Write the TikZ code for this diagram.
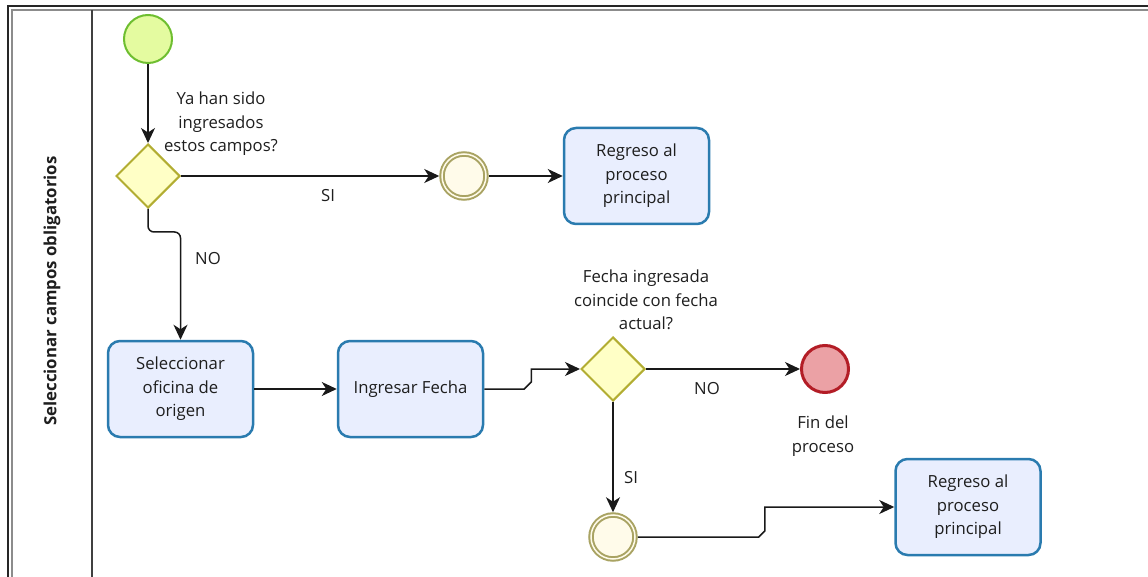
\documentclass[tikz,border=0pt]{standalone}
\usepackage{fontspec}
\setmainfont{Open Sans}
\usetikzlibrary{arrows.meta,shapes.geometric}

\definecolor{startfill}{HTML}{E4FBA0}
\definecolor{startdraw}{HTML}{6EBE30}
\definecolor{gwfill}{HTML}{FFFFC6}
\definecolor{gwdraw}{HTML}{B2AD32}
\definecolor{imfill}{HTML}{FFFBEA}
\definecolor{imdraw}{HTML}{A9A363}
\definecolor{taskfill}{HTML}{E9EEFE}
\definecolor{taskdraw}{HTML}{2A7BAF}
\definecolor{endfill}{HTML}{EBA1A5}
\definecolor{enddraw}{HTML}{B31D26}
\definecolor{txt}{HTML}{1E1E1E}

\begin{document}
\begin{tikzpicture}[x=1pt,y=-1pt,
  font=\fontsize{16.7}{23.5}\selectfont,
  flow/.style={draw=black!90, line width=1.5pt,
    -{Stealth[length=15pt,width=14pt,inset=4.5pt]}},
  startev/.style={circle, draw=startdraw, fill=startfill, line width=2pt,
    minimum size=48pt, inner sep=0pt},
  endev/.style={circle, draw=enddraw, fill=endfill, line width=3pt,
    minimum size=47pt, inner sep=0pt},
  midev/.style={circle, draw=imdraw, double=imfill, double distance=1.5pt,
    line width=2pt, fill=imfill, minimum size=44pt, inner sep=0pt,
    outer sep=2.75pt},
  gateway/.style={diamond, aspect=1, draw=gwdraw, fill=gwfill, line width=2pt,
    minimum width=64pt, minimum height=64pt, inner sep=0pt},
  task/.style={rectangle, rounded corners=12pt, draw=taskdraw, fill=taskfill,
    line width=2.5pt, minimum width=145pt, minimum height=96pt,
    align=center, text=txt},
  lbl/.style={align=center, text=txt, inner sep=0pt},
]
\useasboundingbox (0,0) rectangle (1148,577);

% pool frame and lane header
\draw[line width=1.6pt, black!85] (8,577) -- (8,6) -- (1148,6);
\draw[line width=1.2pt, black!45] (12,577) -- (12,10) -- (1148,10);
\draw[line width=1.3pt, black!75] (92,10) -- (92,577);
\node[rotate=90, font=\fontsize{16.8}{20}\selectfont\bfseries, text=txt]
  (lane) at (52,291) {Seleccionar campos obligatorios};

% events, gateways and tasks
\node[startev] (start) at (148,39) {};
\node[gateway] (gw1) at (148,176) {};
\node[midev] (im1) at (464,176) {};
\node[task] (t1) at (636.5,176) {Regreso al\\proceso\\principal};
\node[task] (t2) at (180.5,389) {Seleccionar\\oficina de\\origen};
\node[task] (t3) at (410.5,389) {Ingresar Fecha};
\node[gateway] (gw2) at (613,369) {};
\node[endev] (fin) at (825,369) {};
\node[midev] (im2) at (613,537) {};
\node[task] (t4) at (968,507) {Regreso al\\proceso\\principal};

% labels
\node[lbl] (q1) at (221,124) {Ya han sido\\ingresados\\estos campos?};
\node[lbl] (si1) at (328,196) {SI};
\node[lbl] (no1) at (208,259) {NO};
\node[lbl] (q2) at (646,300) {Fecha ingresada\\coincide con fecha\\actual?};
\node[lbl] (no2) at (707,389) {NO};
\node[lbl] (finlbl) at (823,436) {Fin del\\proceso};
\node[lbl] (si2) at (631,478) {SI};

% sequence flows
\draw[flow] (start) -- (gw1);
\draw[flow] (gw1.east) -- (im1.west);
\draw[flow] (im1) -- (t1);
\draw[flow, rounded corners=6pt] (gw1.south) -- ++(0,23) -| (t2.north);
\draw[flow] (t2) -- (t3);
\draw[flow] (t3.east) -- ++(40,0) -- ++(7,-7) |- (gw2.west);
\draw[flow] (gw2.east) -- (fin.west);
\draw[flow] (gw2.south) -- (im2.north);
\draw[flow] (im2.east) -- ++(121,0) -- ++(6,-6) |- (t4.west);
\end{tikzpicture}
\end{document}
